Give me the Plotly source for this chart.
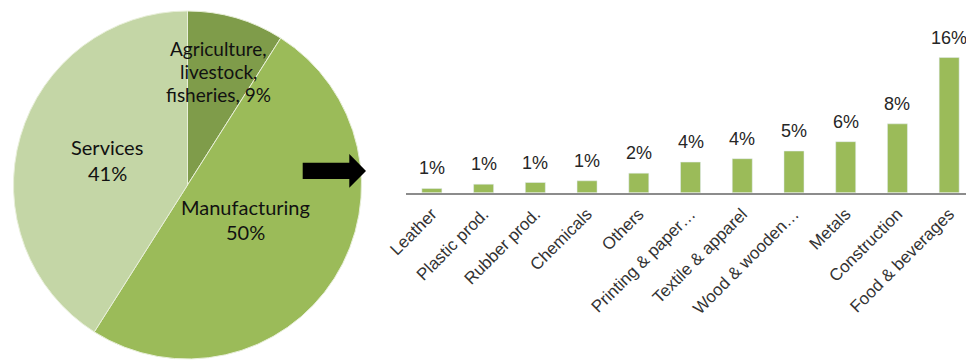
import plotly.graph_objects as go

W, H = 966, 360

# ---- data ----
pie_labels = ["Agriculture, livestock, fisheries", "Manufacturing", "Services"]
pie_values = [9, 50, 41]
pie_colors = ["#7f9c4a", "#9bbb59", "#c4d6a6"]

bar_categories = ["Leather", "Plastic prod.", "Rubber prod.", "Chemicals", "Others",
                  "Printing & paper…", "Textile & apparel", "Wood & wooden…",
                  "Metals", "Construction", "Food & beverages"]
bar_values = [0.5, 1.0, 1.2, 1.4, 2.3, 3.6, 4.0, 4.9, 6.0, 8.1, 15.9]
bar_text = ["1%", "1%", "1%", "1%", "2%", "4%", "4%", "5%", "6%", "8%", "16%"]


def px(x):
    return x / W


def py(y):
    return 1 - y / H


fig = go.Figure()

# pie: center ~ (187.5,185), radius ~174
cx, cy, r = 187.5, 185, 174
fig.add_trace(go.Pie(
    labels=pie_labels, values=pie_values, sort=False, direction="clockwise",
    rotation=0, marker=dict(colors=pie_colors, line=dict(color="#e8efd9", width=1)),
    textinfo="none", hoverinfo="skip", showlegend=False,
    domain=dict(x=[px(cx - r), px(cx + r)], y=[py(cy + r), py(cy - r)]),
))

fig.add_trace(go.Bar(
    x=bar_categories, y=bar_values, marker_color="#9bbb59",
    hoverinfo="skip", showlegend=False,
))

annotations = []
for c, v, t in zip(bar_categories, bar_values, bar_text):
    annotations.append(dict(x=c, y=v, xref="x", yref="y", text=t, showarrow=False,
                            yanchor="bottom", yshift=8,
                            font=dict(family="Liberation Sans, Arial", size=18, color="#262626")))

pie_font = dict(family="Lato, Carlito, Calibri", size=20, color="#111111")
agri_font = dict(family="Lato, Carlito, Calibri", size=19, color="#111111")
pie_lines = [
    ("Agriculture,", 218, 49, agri_font), ("livestock,", 218, 72, agri_font),
    ("fisheries, 9%", 218, 95, agri_font),
    ("Services", 107, 147, pie_font), ("41%", 107, 173, pie_font),
    ("Manufacturing", 246, 207, pie_font), ("50%", 246, 232, pie_font),
]
for t, x, y, f in pie_lines:
    annotations.append(dict(x=px(x), y=py(y), xref="paper", yref="paper", text=t,
                            showarrow=False, xanchor="center", yanchor="middle",
                            borderpad=0, font=f))

# block arrow
pts = [(302.7, 162.7), (349.3, 162.7), (349.3, 154), (366, 171), (349.3, 187.7),
       (349.3, 179), (302.7, 179)]
path = "M " + " L ".join(f"{px(x):.5f},{py(y):.5f}" for x, y in pts) + " Z"

left, spacing = 406, 51.73
xmax = (W - left) / spacing - 0.5
base_y, top_y, ppu = 192.7, 20, 8.5

fig.update_layout(
    width=W, height=H, margin=dict(l=0, r=0, t=0, b=0),
    paper_bgcolor="white", plot_bgcolor="rgba(0,0,0,0)",
    bargap=1 - 20 / spacing,
    annotations=annotations,
    shapes=[dict(type="path", path=path, xref="paper", yref="paper",
                 fillcolor="black", line=dict(width=0))],
    xaxis=dict(domain=[px(left), 1], range=[-0.5, xmax], type="category",
               showline=True, linecolor="#8c8c8c", linewidth=1.5,
               showgrid=False, zeroline=False, ticks="", tickangle=-45,
               ticklabelstandoff=3,
               tickfont=dict(family="Liberation Sans, Arial", size=17, color="#333333"),
               automargin=False, fixedrange=True),
    yaxis=dict(domain=[py(base_y), py(top_y)], range=[0, (base_y - top_y) / ppu],
               showline=False, showgrid=False, zeroline=False, showticklabels=False,
               automargin=False, fixedrange=True),
)

fig.write_html("out.html")
